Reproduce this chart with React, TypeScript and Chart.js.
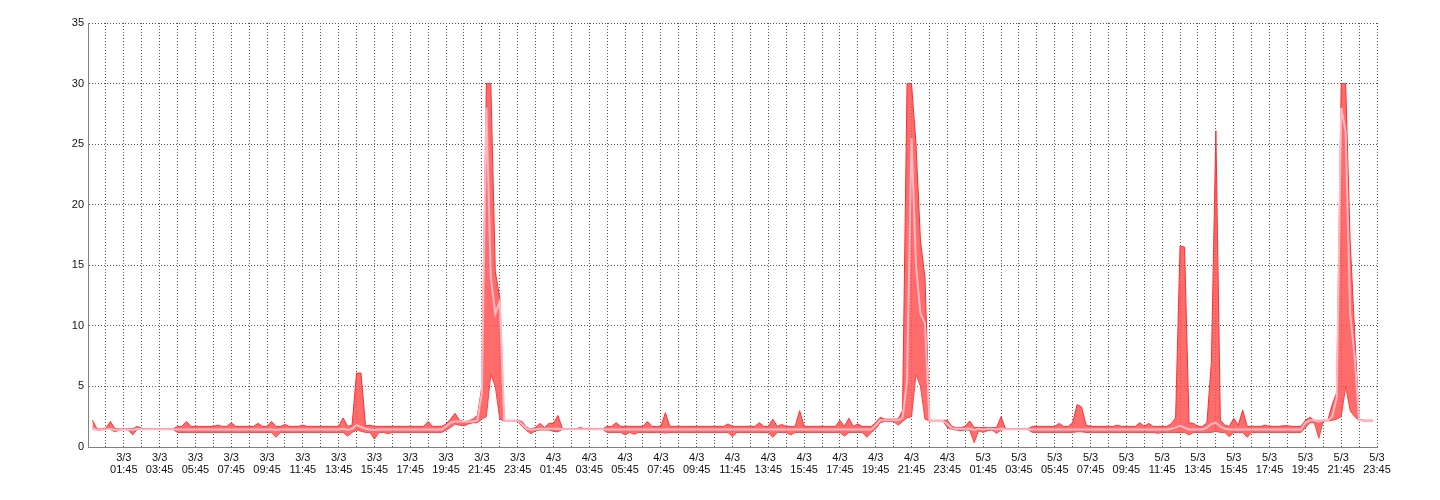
import React, { useEffect, useRef } from 'react';
import { Chart, registerables } from 'chart.js';

Chart.register(...registerables);

// Tick labels (x axis: every 2 hours, at hh:45)
const dayLabels = ['3/3', '4/3', '5/3'];
const timeLabels = ['01:45', '03:45', '05:45', '07:45', '09:45', '11:45', '13:45', '15:45', '17:45', '19:45', '21:45', '23:45'];

// Y axis
const yMin = 0;
const yMax = 35;
const yStep = 5;

// Samples every 15 minutes starting 3/3 00:00 (hours)
const sampleStepHours = 0.25;
const axisStartHours = -0.25;
const axisEndHours = 71.75;

const maxVals = [
  // 3/3 00:00
  2.2, 1.5, 1.5, 1.55, 2.1, 1.5, 1.5, 1.5, 1.5, 1.5, 1.7, 1.55,
  1.5, 1.5, 1.5, 1.5, 1.5, 1.5, 1.5, 1.7, 1.7, 2.1, 1.7, 1.7,
  1.7, 1.7, 1.7, 1.7, 1.8, 1.7, 1.7, 2.0, 1.7, 1.7, 1.7, 1.7,
  1.7, 1.95, 1.7, 1.7, 2.1, 1.7, 1.7, 1.85, 1.7, 1.7, 1.7, 1.8,
  1.7, 1.7, 1.7, 1.7, 1.7, 1.7, 1.7, 1.7, 2.4, 1.7, 1.8, 6.1,
  6.1, 1.75, 1.8, 1.7, 1.7, 1.7, 1.7, 1.7, 1.7, 1.7, 1.7, 1.7,
  1.7, 1.7, 1.7, 2.1, 1.7, 1.7, 1.7, 1.9, 2.3, 2.78, 2.2, 2.1,
  2.15, 2.3, 2.6, 5.0, 30, 30, 14.5, 12.3, 2.2, 2.2, 2.2, 2.2,
  // 4/3 00:00
  2.1, 1.6, 1.5, 1.6, 1.95, 1.6, 1.95, 1.95, 2.6, 1.5, 1.5, 1.5,
  1.5, 1.6, 1.5, 1.55, 1.5, 1.5, 1.5, 1.7, 1.7, 2.0, 1.7, 1.7,
  1.7, 1.7, 1.7, 1.7, 2.1, 1.7, 1.7, 1.7, 2.83, 1.7, 1.7, 1.7,
  1.7, 1.7, 1.7, 1.7, 1.7, 1.7, 1.7, 1.7, 1.7, 1.7, 1.9, 1.7,
  1.7, 1.7, 1.7, 1.7, 1.7, 2.0, 1.7, 1.7, 2.3, 1.7, 1.85, 1.7,
  1.7, 1.7, 3.0, 1.7, 1.7, 1.7, 1.7, 1.7, 1.7, 1.7, 1.7, 2.2,
  1.7, 2.37, 1.7, 1.9, 1.7, 1.7, 1.7, 2.0, 2.45, 2.3, 2.3, 2.3,
  2.3, 3.0, 30, 30, 25, 17, 14, 2.2, 2.2, 2.2, 2.2, 2.2,
  // 5/3 00:00
  1.7, 1.6, 1.6, 1.7, 2.15, 1.6, 1.6, 1.6, 1.6, 1.6, 1.6, 2.5,
  1.5, 1.5, 1.5, 1.5, 1.5, 1.5, 1.7, 1.7, 1.7, 1.7, 1.7, 1.7,
  1.95, 1.7, 1.7, 2.0, 3.5, 3.3, 1.8, 1.7, 1.7, 1.7, 1.7, 1.7,
  1.7, 1.8, 1.7, 1.7, 1.7, 1.7, 2.0, 1.7, 1.95, 1.7, 1.7, 1.7,
  1.7, 1.9, 2.4, 16.6, 16.5, 2.0, 1.95, 1.7, 1.7, 2.0, 7.0, 26.1,
  2.2, 1.8, 1.7, 2.37, 1.8, 3.05, 1.7, 1.7, 1.7, 1.7, 1.8, 1.7,
  1.7, 1.7, 1.75, 1.75, 1.7, 1.7, 1.7, 2.2, 2.45, 2.2, 2.2, 2.2,
  2.2, 3.5, 4.5, 30, 30, 17, 9.5, 2.3, 2.2, 2.2, 2.2,
];

const minVals = [
  // 3/3 00:00
  1.45, 1.4, 1.4, 1.45, 1.45, 1.25, 1.4, 1.45, 1.4, 1.0, 1.45, 1.45,
  1.45, 1.45, 1.45, 1.45, 1.45, 1.45, 1.45, 1.2, 1.2, 1.2, 1.2, 1.2,
  1.2, 1.2, 1.2, 1.2, 1.2, 1.2, 1.2, 1.2, 1.2, 1.2, 1.2, 1.2,
  1.2, 1.2, 1.2, 1.2, 1.2, 0.8, 1.2, 1.2, 1.2, 1.2, 1.2, 1.2,
  1.2, 1.2, 1.2, 1.2, 1.2, 1.2, 1.2, 1.2, 1.2, 0.9, 1.2, 1.4,
  1.3, 1.2, 1.2, 0.65, 1.2, 1.2, 1.1, 1.2, 1.2, 1.2, 1.2, 1.2,
  1.2, 1.2, 1.2, 1.2, 1.2, 1.2, 1.2, 1.4, 1.6, 1.9, 1.8, 1.75,
  1.9, 2.0, 2.0, 2.3, 2.5, 6, 5, 2.3, 2.15, 2.15, 2.15, 2.1,
  // 4/3 00:00
  1.7, 1.35, 1.1, 1.35, 1.4, 1.4, 1.4, 1.3, 1.25, 1.45, 1.45, 1.45,
  1.45, 1.45, 1.45, 1.45, 1.45, 1.45, 1.45, 1.2, 1.2, 1.2, 1.2, 1.0,
  1.2, 1.05, 1.2, 1.2, 1.2, 1.2, 1.2, 1.2, 1.15, 1.2, 1.2, 1.2,
  1.2, 1.2, 1.2, 1.2, 1.2, 1.2, 1.2, 1.2, 1.2, 1.2, 1.2, 0.85,
  1.2, 1.2, 1.2, 1.2, 1.2, 1.2, 1.2, 1.2, 0.8, 1.2, 1.2, 1.2,
  1.0, 1.2, 1.2, 1.2, 1.2, 1.2, 1.2, 1.2, 1.2, 1.2, 1.2, 1.2,
  0.9, 1.2, 1.2, 1.2, 1.2, 0.8, 1.2, 1.5, 2.0, 2.1, 2.1, 2.1,
  1.8, 2.1, 2.4, 2.5, 6, 5, 2.3, 2.15, 2.15, 2.15, 2.15, 1.6,
  // 5/3 00:00
  1.45, 1.4, 1.35, 1.4, 1.4, 0.35, 1.35, 1.2, 1.35, 1.4, 1.13, 1.4,
  1.45, 1.45, 1.45, 1.45, 1.45, 1.45, 1.2, 1.2, 1.2, 1.2, 1.2, 1.2,
  1.2, 1.2, 1.2, 1.2, 1.25, 1.25, 1.2, 1.2, 1.2, 1.2, 1.2, 1.2,
  1.2, 1.2, 1.2, 1.2, 1.2, 1.2, 1.2, 1.2, 1.2, 1.2, 1.13, 1.2,
  1.2, 1.2, 1.2, 1.2, 1.2, 1.0, 1.2, 1.2, 1.2, 1.2, 1.2, 1.3,
  1.2, 1.2, 0.85, 1.2, 1.2, 1.2, 0.8, 1.2, 1.2, 1.2, 1.2, 1.2,
  1.2, 1.2, 1.2, 1.2, 1.2, 1.2, 1.2, 1.6, 2.0, 2.0, 0.72, 2.15,
  2.15, 2.2, 2.3, 2.5, 5, 3, 2.5, 2.2, 2.15, 2.15, 2.15,
];

const avgVals = [
  // 3/3 00:00
  1.5, 1.45, 1.45, 1.47, 1.5, 1.4, 1.45, 1.47, 1.45, 1.4, 1.5, 1.48,
  1.47, 1.47, 1.47, 1.47, 1.47, 1.47, 1.47, 1.45, 1.45, 1.45, 1.45, 1.45,
  1.45, 1.45, 1.45, 1.45, 1.45, 1.45, 1.45, 1.45, 1.45, 1.45, 1.45, 1.45,
  1.45, 1.45, 1.45, 1.45, 1.45, 1.4, 1.45, 1.45, 1.45, 1.45, 1.45, 1.45,
  1.45, 1.45, 1.45, 1.45, 1.45, 1.45, 1.45, 1.45, 1.5, 1.4, 1.5, 1.8,
  1.65, 1.5, 1.45, 1.4, 1.45, 1.45, 1.45, 1.45, 1.45, 1.45, 1.45, 1.45,
  1.45, 1.45, 1.45, 1.45, 1.45, 1.45, 1.45, 1.7, 2.0, 2.1, 2.1, 2.1,
  2.1, 2.1, 2.2, 4.5, 28, 14, 11, 12, 2.17, 2.17, 2.17, 2.17,
  // 4/3 00:00
  1.9, 1.5, 1.45, 1.45, 1.5, 1.5, 1.5, 1.5, 1.5, 1.47, 1.47, 1.47,
  1.47, 1.47, 1.47, 1.47, 1.47, 1.47, 1.47, 1.45, 1.45, 1.45, 1.45, 1.45,
  1.45, 1.45, 1.45, 1.45, 1.45, 1.45, 1.45, 1.45, 1.45, 1.45, 1.45, 1.45,
  1.45, 1.45, 1.45, 1.45, 1.45, 1.45, 1.45, 1.45, 1.45, 1.45, 1.45, 1.45,
  1.45, 1.45, 1.45, 1.45, 1.45, 1.45, 1.45, 1.45, 1.45, 1.45, 1.45, 1.45,
  1.45, 1.45, 1.45, 1.45, 1.45, 1.45, 1.45, 1.45, 1.45, 1.45, 1.45, 1.45,
  1.45, 1.45, 1.45, 1.45, 1.45, 1.45, 1.45, 1.8, 2.2, 2.2, 2.2, 2.2,
  2.2, 2.4, 5.5, 25.5, 15, 11, 10.2, 2.2, 2.17, 2.17, 2.17, 1.9,
  // 5/3 00:00
  1.55, 1.5, 1.5, 1.5, 1.5, 1.4, 1.5, 1.45, 1.5, 1.5, 1.45, 1.5,
  1.47, 1.47, 1.47, 1.47, 1.47, 1.47, 1.45, 1.45, 1.45, 1.45, 1.45, 1.45,
  1.45, 1.45, 1.45, 1.45, 1.45, 1.45, 1.45, 1.45, 1.45, 1.45, 1.45, 1.45,
  1.45, 1.45, 1.45, 1.45, 1.45, 1.45, 1.45, 1.45, 1.45, 1.45, 1.45, 1.45,
  1.45, 1.5, 1.6, 1.75, 1.6, 1.45, 1.45, 1.45, 1.45, 1.6, 1.9, 2.0,
  1.7, 1.5, 1.45, 1.45, 1.45, 1.45, 1.45, 1.45, 1.45, 1.45, 1.45, 1.45,
  1.45, 1.45, 1.45, 1.45, 1.45, 1.45, 1.45, 2.0, 2.2, 2.2, 2.1, 2.2,
  2.2, 2.5, 4.1, 28, 26, 11, 7.5, 2.2, 2.2, 2.2, 2.2,
];

const toPoints = (vals: number[]) => vals.map((v, i) => ({ x: i * sampleStepHours, y: v }));

const FONT = { family: '"Liberation Sans", Arial, sans-serif', size: 11, lineHeight: 1.1 };

export default function App() {
  const ref = useRef<HTMLCanvasElement | null>(null);

  useEffect(() => {
    if (!ref.current) return;
    const hourTicks: number[] = [];
    for (let h = axisStartHours; h <= axisEndHours + 1e-9; h += 1) hourTicks.push(h);

    const chart = new Chart(ref.current, {
      type: 'line',
      data: {
        datasets: [
          {
            label: 'max',
            data: toPoints(maxVals),
            borderColor: '#ff2e2e',
            borderWidth: 1,
            backgroundColor: 'rgba(255, 82, 82, 0.85)',
            fill: 1,
            pointRadius: 0,
            tension: 0,
            order: 2,
          },
          {
            label: 'min',
            data: toPoints(minVals),
            borderColor: '#ff4444',
            borderWidth: 1,
            fill: false,
            pointRadius: 0,
            tension: 0,
            order: 1,
          },
          {
            label: 'avg',
            data: toPoints(avgVals),
            borderColor: '#ffb8c4',
            borderWidth: 2,
            fill: false,
            pointRadius: 0,
            tension: 0,
            order: 0,
          },
        ],
      },
      options: {
        animation: false,
        responsive: true,
        maintainAspectRatio: false,
        layout: { padding: { left: 0, top: 15, right: 55, bottom: 0 } },
        plugins: { legend: { display: false }, tooltip: { enabled: false } },
        scales: {
          x: {
            type: 'linear',
            min: axisStartHours,
            max: axisEndHours,
            afterBuildTicks: (scale: any) => {
              scale.ticks = hourTicks.map((v) => ({ value: v }));
            },
            afterFit: (scale: any) => {
              scale.height = 45;
            },
            ticks: {
              autoSkip: false,
              maxRotation: 0,
              minRotation: 0,
              padding: 5,
              color: '#111',
              font: FONT,
              callback: (_v: any, index: number) => {
                if (index > 0 && index % 2 === 0) {
                  const k = index / 2 - 1;
                  return [dayLabels[Math.floor(k / 12)], timeLabels[k % 12]];
                }
                return '';
              },
            },
            grid: { color: '#555', lineWidth: 1, drawTicks: false },
            border: { display: true, color: '#808080', width: 1, dash: [1, 2] },
          },
          y: {
            type: 'linear',
            min: yMin,
            max: yMax,
            afterFit: (scale: any) => {
              scale.width = 80;
            },
            ticks: { stepSize: yStep, padding: 4, color: '#111', font: FONT },
            grid: { color: '#555', lineWidth: 1, drawTicks: false },
            border: { display: true, color: '#808080', width: 1, dash: [1, 2] },
          },
        },
      },
    });
    return () => chart.destroy();
  }, []);

  return (
    <div style={{ width: 1424, height: 484, position: 'relative' }}>
      <canvas ref={ref} />
    </div>
  );
}
